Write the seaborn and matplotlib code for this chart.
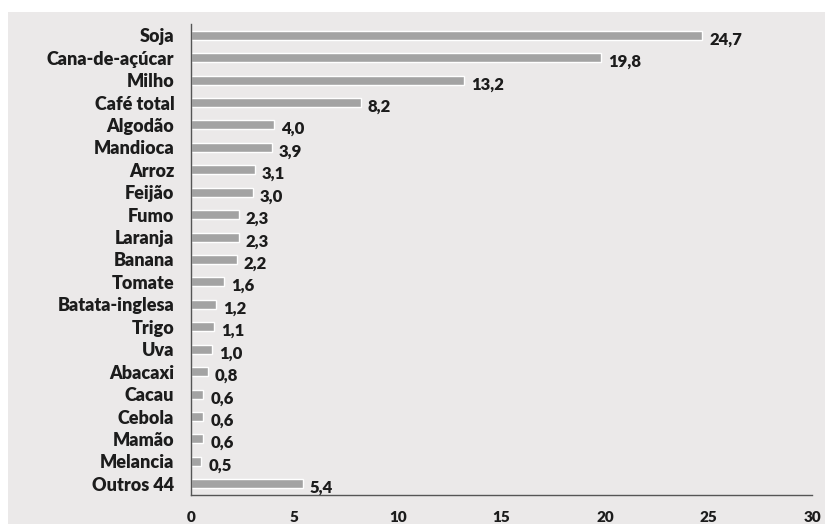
import matplotlib
matplotlib.use("Agg")
import matplotlib.pyplot as plt
from matplotlib.patches import Rectangle
import seaborn as sns
import pandas as pd
import numpy as np

culturas = ["Soja", "Cana-de-açúcar", "Milho", "Café total", "Algodão", "Mandioca",
            "Arroz", "Feijão", "Fumo", "Laranja", "Banana", "Tomate", "Batata-inglesa",
            "Trigo", "Uva", "Abacaxi", "Cacau", "Cebola", "Mamão", "Melancia", "Outros 44"]
valores = [24.7, 19.8, 13.2, 8.2, 4.0, 3.9, 3.1, 3.0, 2.3, 2.3, 2.2, 1.6, 1.2,
           1.1, 1.0, 0.8, 0.6, 0.6, 0.6, 0.5, 5.4]
ticks_x = [0, 5, 10, 15, 20, 25, 30]

sns.set_style("white")
plt.rcParams["font.family"] = ["Lato", "DejaVu Sans"]

BAR = "#a3a3a3"
PAPER = "#ebe9e9"
INK = "#1c1c1c"

df = pd.DataFrame({"cultura": culturas, "valor": valores})

fig = plt.figure(figsize=(8.25, 5.24), dpi=100, facecolor="white")
fig.patches.append(Rectangle((8 / 825, 0), 1, 1 - 12 / 524, transform=fig.transFigure,
                             facecolor=PAPER, edgecolor="none", zorder=-10))
ax = fig.add_axes([191 / 825, 1 - 495 / 524, (812 - 191) / 825, (495 - 24) / 524])
ax.set_facecolor("none")

sns.barplot(data=df, y="cultura", x="valor", orient="h", color=BAR,
            width=0.4, saturation=1, ax=ax)

ax.set_xlim(0, 30)
ax.set_ylim(len(culturas) - 0.5, -0.5)
ax.set_xlabel("")
ax.set_ylabel("")

for s in ["top", "right"]:
    ax.spines[s].set_visible(False)
for s in ["left", "bottom"]:
    ax.spines[s].set_color("#555555")
    ax.spines[s].set_linewidth(1.0)

ax.set_xticks(ticks_x)
ax.set_xticklabels([str(t) for t in ticks_x], fontsize=11, fontweight="heavy", color=INK)
ax.tick_params(axis="x", direction="inout", length=5, width=1, color="#555555", pad=9)

ax.set_yticks(np.arange(len(culturas)))
ax.set_yticklabels(culturas, fontsize=13, fontweight="heavy", color=INK)
ax.tick_params(axis="y", length=0, pad=12)
ax.set_yticks(np.arange(len(culturas) + 1) - 0.5, minor=True)
ax.tick_params(axis="y", which="minor", direction="out", length=4, width=1, color="#555555")

for i, v in enumerate(valores):
    ax.annotate(f"{v:.1f}".replace(".", ","), xy=(v, i), xytext=(5, -3),
                textcoords="offset points", va="center", ha="left",
                fontsize=12, fontweight="heavy", color=INK)

fig.savefig("out.png", dpi=100, facecolor=fig.get_facecolor())
